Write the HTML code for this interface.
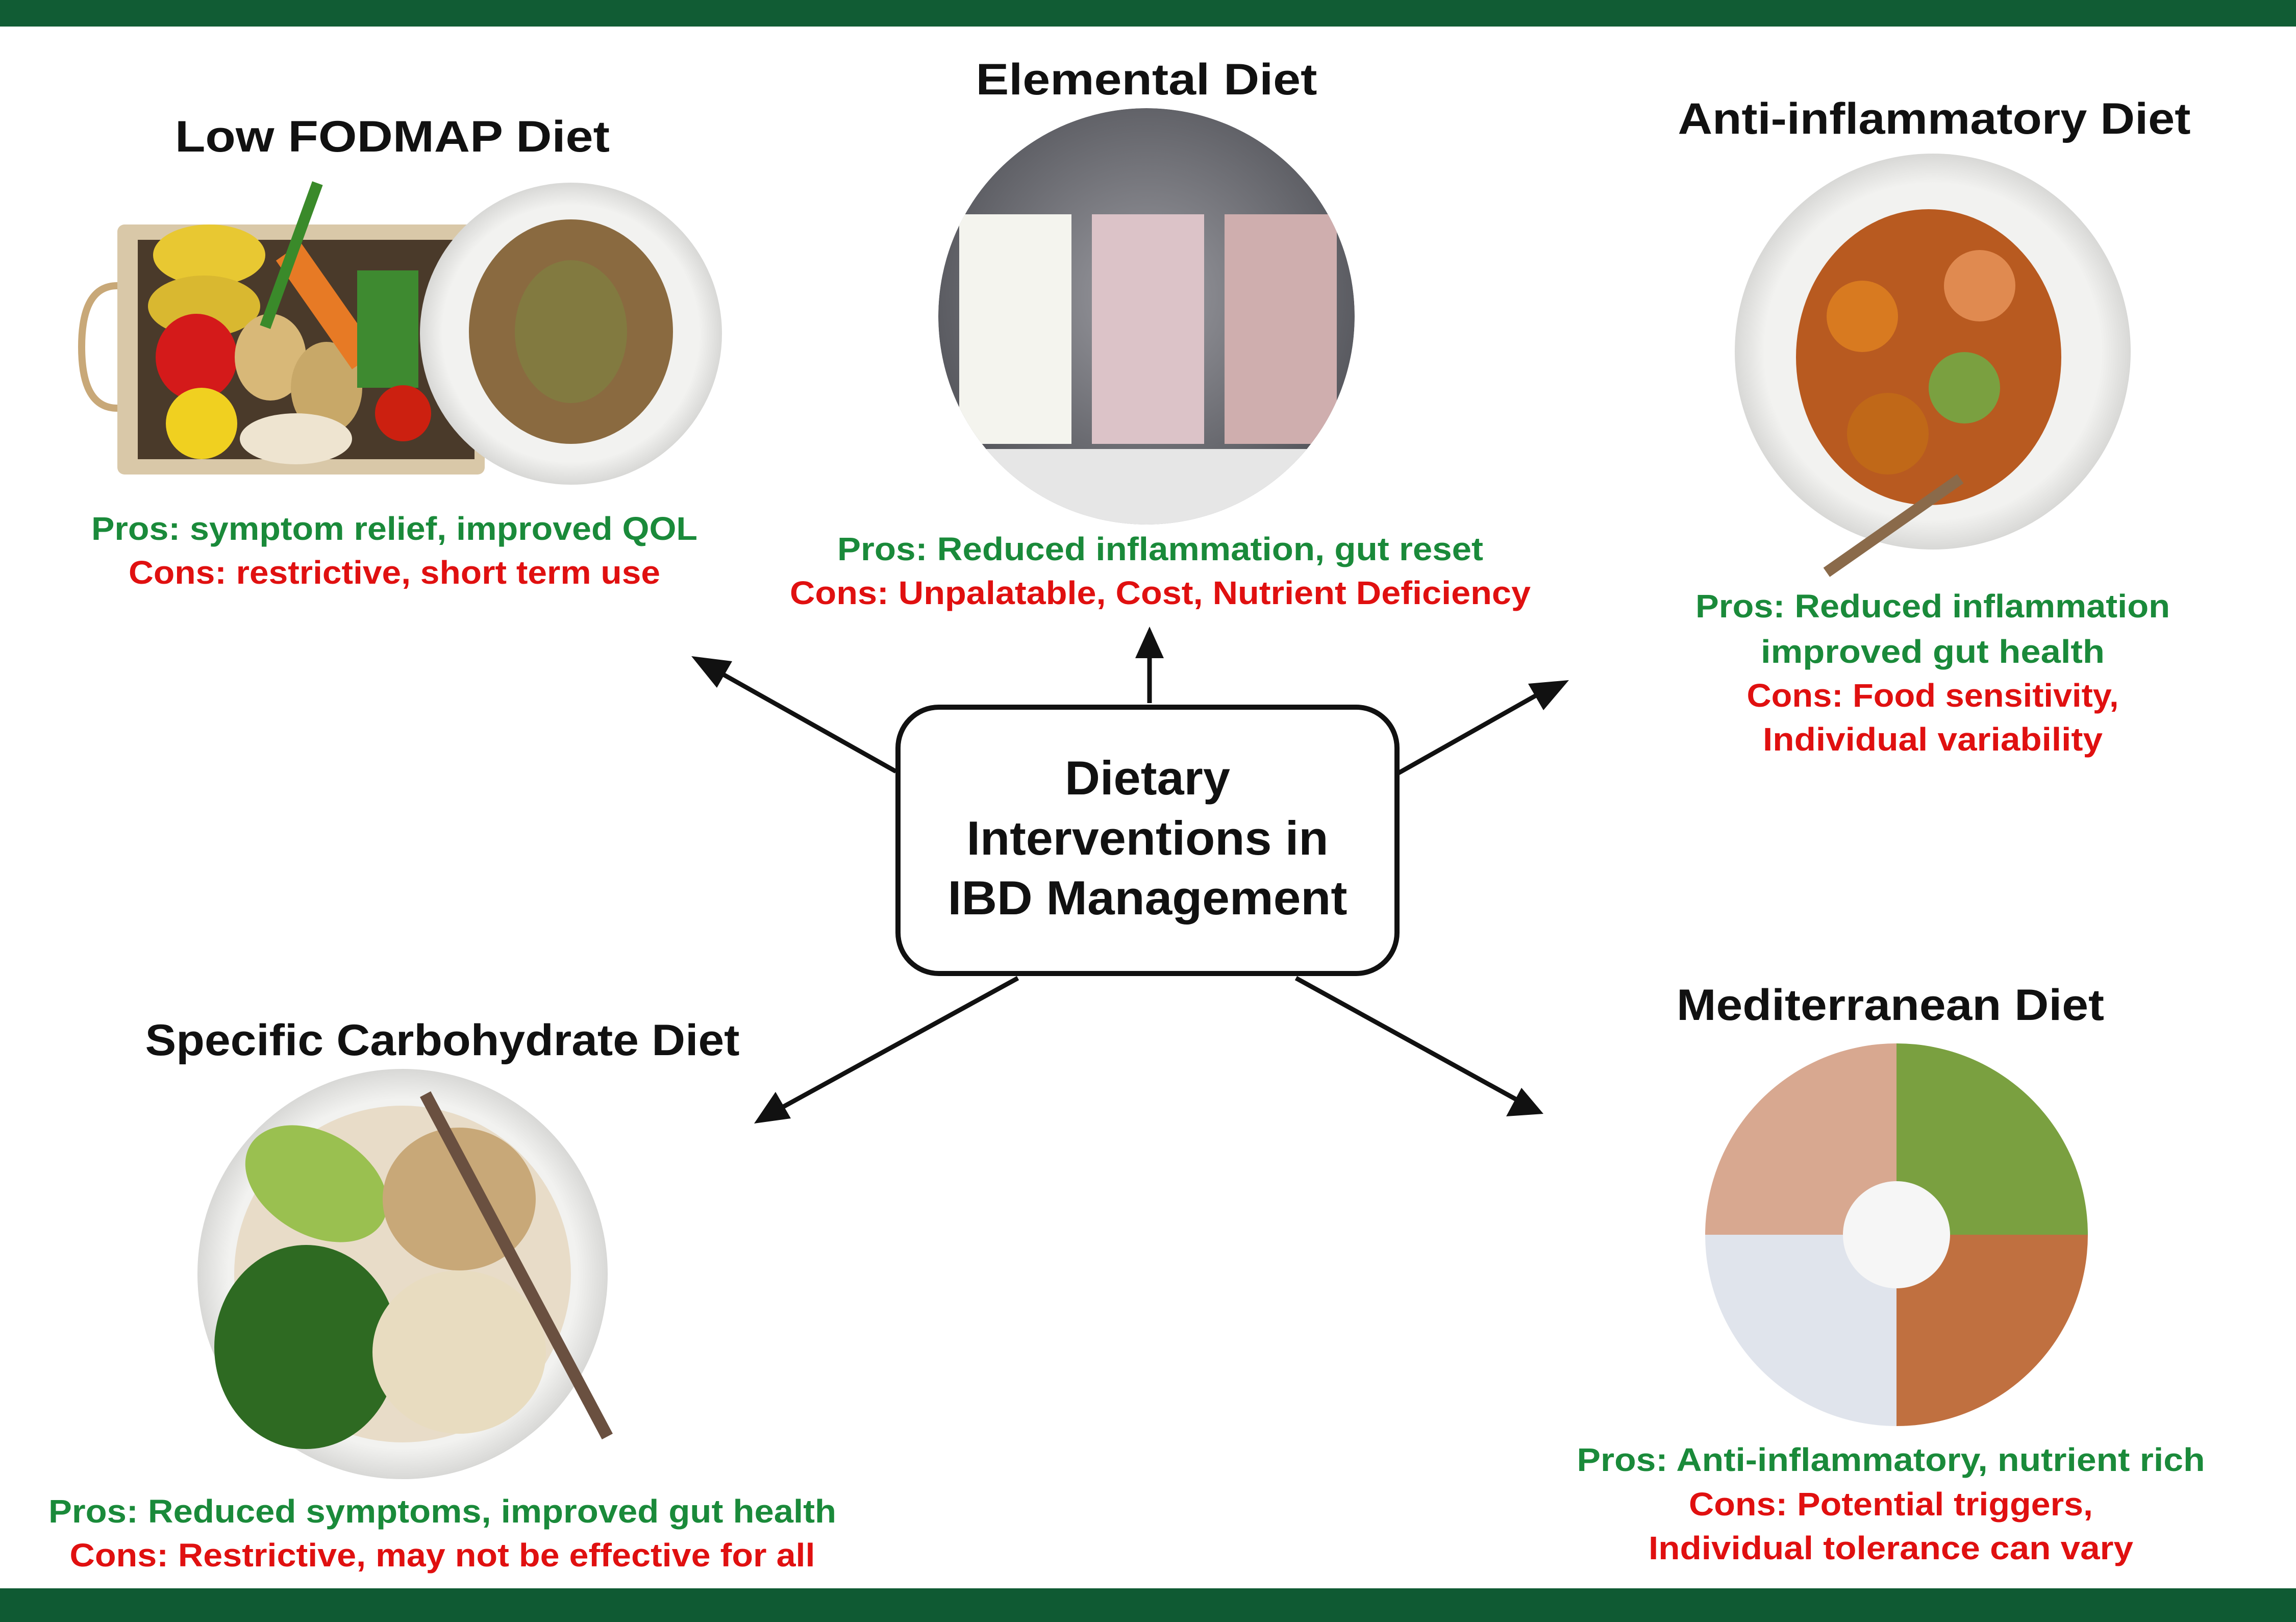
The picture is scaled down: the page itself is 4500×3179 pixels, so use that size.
<!DOCTYPE html>
<html><head><meta charset="utf-8"><style>
html,body{margin:0;padding:0;background:#fff}
body{width:4500px;height:3179px;position:relative;overflow:hidden;font-family:"Liberation Sans",sans-serif}
svg{position:absolute;left:0;top:0}
text{font-weight:bold;text-anchor:middle}
.t{fill:#111;font-size:86px}
.p{fill:#1a8a3a;font-size:64px}
.c{fill:#e01010;font-size:64px}
.m{fill:#111;font-size:94px}
</style></head><body>
<svg width="4500" height="3179" viewBox="0 0 4500 3179">
<defs>
<radialGradient id="g1" cx="50%" cy="45%" r="55%"><stop offset="0" stop-color="#9a9aa0"/><stop offset="1" stop-color="#55565c"/></radialGradient>
<radialGradient id="pl" cx="50%" cy="50%" r="50%"><stop offset="0.85" stop-color="#f2f2f0"/><stop offset="1" stop-color="#d8d8d6"/></radialGradient>
<clipPath id="ce"><circle cx="2247" cy="620" r="408"/></clipPath>
</defs>
<rect x="0" y="0" width="4500" height="52" fill="#115c34"/>
<rect x="0" y="3113" width="4500" height="66" fill="#0f5a33"/>

<!-- Low FODMAP image -->
<rect x="230" y="440" width="720" height="490" rx="14" fill="#d9c8a8"/>
<rect x="270" y="470" width="660" height="430" fill="#4a3a2a"/>
<path d="M230 560 Q160 560 160 680 Q160 800 230 800" fill="none" stroke="#c8a878" stroke-width="14"/>
<ellipse cx="410" cy="500" rx="110" ry="60" fill="#e8c832"/>
<ellipse cx="400" cy="600" rx="110" ry="60" fill="#d9b830"/>
<ellipse cx="385" cy="700" rx="80" ry="85" fill="#d41a1a"/>
<circle cx="395" cy="830" r="70" fill="#f0d020"/>
<ellipse cx="530" cy="700" rx="70" ry="85" fill="#d8b878"/>
<ellipse cx="640" cy="760" rx="70" ry="90" fill="#c8a868"/>
<ellipse cx="580" cy="860" rx="110" ry="50" fill="#eee4d0"/>
<rect x="610" y="470" width="60" height="260" fill="#e77a25" transform="rotate(-35 640 600)"/>
<rect x="700" y="530" width="120" height="230" fill="#3e8a30"/>
<rect x="560" y="350" width="22" height="300" fill="#3a8a2a" transform="rotate(20 571 500)"/>
<circle cx="790" cy="810" r="55" fill="#cc2010"/>
<circle cx="1119" cy="654" r="296" fill="url(#pl)"/>
<ellipse cx="1119" cy="650" rx="200" ry="220" fill="#8a6a40"/>
<ellipse cx="1119" cy="650" rx="110" ry="140" fill="#7a8a40" opacity="0.5"/>

<!-- Elemental -->
<g clip-path="url(#ce)">
<circle cx="2247" cy="620" r="408" fill="url(#g1)"/>
<rect x="1880" y="420" width="220" height="450" fill="#f4f4ee"/>
<rect x="2140" y="420" width="220" height="450" fill="#dcc3c8"/>
<rect x="2400" y="420" width="220" height="450" fill="#cfaeae"/>
<rect x="1800" y="880" width="900" height="160" fill="#e6e6e6"/>
</g>

<!-- Anti-inflammatory -->
<circle cx="3788" cy="689" r="388" fill="url(#pl)"/>
<ellipse cx="3780" cy="700" rx="260" ry="290" fill="#b85a20"/>
<circle cx="3650" cy="620" r="70" fill="#d87a20"/>
<circle cx="3700" cy="850" r="80" fill="#c06818"/>
<circle cx="3880" cy="560" r="70" fill="#e08a50"/>
<circle cx="3850" cy="760" r="70" fill="#7aa040"/>
<rect x="3700" y="870" width="22" height="320" fill="#8a6a4a" transform="rotate(55 3711 1030)"/>

<!-- SCD -->
<circle cx="789" cy="2497" r="402" fill="url(#pl)"/>
<circle cx="789" cy="2497" r="330" fill="#e8dcc8"/>
<ellipse cx="600" cy="2640" rx="180" ry="200" fill="#2e6a22"/>
<ellipse cx="620" cy="2320" rx="150" ry="100" fill="#9ac050" transform="rotate(30 620 2320)"/>
<ellipse cx="900" cy="2350" rx="150" ry="140" fill="#c8a878"/>
<ellipse cx="900" cy="2650" rx="170" ry="160" fill="#e8dcc0"/>
<rect x="1000" y="2100" width="24" height="760" fill="#6a5040" transform="rotate(-28 1012 2480)"/>

<!-- Mediterranean -->
<path d="M3717 2420 L3717 2045 A375 375 0 0 1 4092 2420 Z" fill="#7aa040"/>
<path d="M3717 2420 L4092 2420 A375 375 0 0 1 3717 2795 Z" fill="#c07040"/>
<path d="M3717 2420 L3717 2795 A375 375 0 0 1 3342 2420 Z" fill="#e0e4ec"/>
<path d="M3717 2420 L3342 2420 A375 375 0 0 1 3717 2045 Z" fill="#d8a890"/>
<circle cx="3717" cy="2420" r="105" fill="#f6f6f6"/>

<!-- Center box -->
<rect x="1760" y="1386" width="978" height="522" rx="80" fill="#fff" stroke="#111" stroke-width="10"/>
<text class="m" x="2249" y="1557" textLength="324" lengthAdjust="spacingAndGlyphs">Dietary</text>
<text class="m" x="2249" y="1675" textLength="709" lengthAdjust="spacingAndGlyphs">Interventions in</text>
<text class="m" x="2249" y="1792" textLength="783" lengthAdjust="spacingAndGlyphs">IBD Management</text>

<!-- Arrows -->
<g stroke="#111" stroke-width="9">
<line x1="1756" y1="1512" x2="1400" y2="1312"/>
<line x1="2253" y1="1378" x2="2253" y2="1280"/>
<line x1="2741" y1="1515" x2="3030" y2="1352"/>
<line x1="1995" y1="1917" x2="1530" y2="2172"/>
<line x1="2540" y1="1917" x2="2972" y2="2155"/>
</g>
<g fill="#111">
<polygon points="1355,1286 1435,1296 1405,1348"/>
<polygon points="2253,1228 2225,1290 2281,1290"/>
<polygon points="3075,1333 2995,1340 3025,1392"/>
<polygon points="1478,2202 1520,2140 1550,2192"/>
<polygon points="3025,2183 2952,2188 2982,2132"/>
</g>

<!-- Titles -->
<text class="t" x="769" y="297" textLength="852" lengthAdjust="spacingAndGlyphs">Low FODMAP Diet</text>
<text class="t" x="2247" y="185" textLength="669" lengthAdjust="spacingAndGlyphs">Elemental Diet</text>
<text class="t" x="3791" y="262" textLength="1005" lengthAdjust="spacingAndGlyphs">Anti-inflammatory Diet</text>
<text class="t" x="867" y="2068" textLength="1165" lengthAdjust="spacingAndGlyphs">Specific Carbohydrate Diet</text>
<text class="t" x="3705" y="1999" textLength="838" lengthAdjust="spacingAndGlyphs">Mediterranean Diet</text>

<text class="p" x="773" y="1058" textLength="1188" lengthAdjust="spacingAndGlyphs">Pros: symptom relief, improved QOL</text>
<text class="c" x="773" y="1144" textLength="1042" lengthAdjust="spacingAndGlyphs">Cons: restrictive, short term use</text>
<text class="p" x="2274" y="1098" textLength="1266" lengthAdjust="spacingAndGlyphs">Pros: Reduced inflammation, gut reset</text>
<text class="c" x="2274" y="1184" textLength="1452" lengthAdjust="spacingAndGlyphs">Cons: Unpalatable, Cost, Nutrient Deficiency</text>
<text class="p" x="3788" y="1210" textLength="930" lengthAdjust="spacingAndGlyphs">Pros: Reduced inflammation</text>
<text class="p" x="3788" y="1299" textLength="674" lengthAdjust="spacingAndGlyphs">improved gut health</text>
<text class="c" x="3788" y="1385" textLength="729" lengthAdjust="spacingAndGlyphs">Cons: Food sensitivity,</text>
<text class="c" x="3788" y="1471" textLength="666" lengthAdjust="spacingAndGlyphs">Individual variability</text>
<text class="p" x="867" y="2984" textLength="1544" lengthAdjust="spacingAndGlyphs">Pros: Reduced symptoms, improved gut health</text>
<text class="c" x="867" y="3070" textLength="1461" lengthAdjust="spacingAndGlyphs">Cons: Restrictive, may not be effective for all</text>
<text class="p" x="3706" y="2883" textLength="1231" lengthAdjust="spacingAndGlyphs">Pros: Anti-inflammatory, nutrient rich</text>
<text class="c" x="3706" y="2970" textLength="792" lengthAdjust="spacingAndGlyphs">Cons: Potential triggers,</text>
<text class="c" x="3706" y="3056" textLength="950" lengthAdjust="spacingAndGlyphs">Individual tolerance can vary</text>
</svg>
</body></html>
